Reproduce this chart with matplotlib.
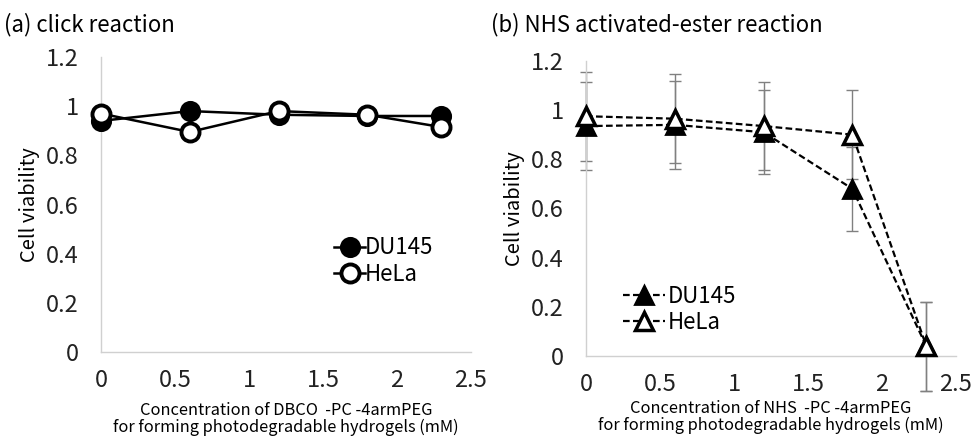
import matplotlib
matplotlib.use("Agg")
import matplotlib.pyplot as plt
import numpy as np

plt.rcParams['font.family'] = ['Noto Sans CJK JP', 'DejaVu Sans']

# concentrations (mM)
conc = [0, 0.6, 1.2, 1.8, 2.3]

# (a) click reaction
click_du145 = [0.94, 0.98, 0.965, 0.96, 0.96]
click_hela = [0.97, 0.895, 0.98, 0.965, 0.915]

# (b) NHS activated-ester reaction
nhs_du145 = [0.935, 0.94, 0.91, 0.68, 0.04]
nhs_du145_err = [0.18, 0.18, 0.17, 0.17, 0.18]
nhs_hela = [0.975, 0.965, 0.935, 0.90, 0.04]
nhs_hela_err = [0.18, 0.18, 0.18, 0.18, 0.18]

yticks = [0, 0.2, 0.4, 0.6, 0.8, 1, 1.2]
ytick_labels = ["0", "0.2", "0.4", "0.6", "0.8", "1", "1.2"]
xticks = [0, 0.5, 1, 1.5, 2, 2.5]
xtick_labels = ["0", "0.5", "1", "1.5", "2", "2.5"]

fig = plt.figure(figsize=(9.71, 4.38), dpi=100)
ax1 = fig.add_axes([0.104, 0.196, 0.381, 0.674])
ax2 = fig.add_axes([0.6035, 0.187, 0.381, 0.674])


def style_axes(ax):
    ax.set_xlim(0, 2.5)
    ax.set_ylim(0, 1.2)
    ax.set_xticks(xticks)
    ax.set_xticklabels(xtick_labels)
    ax.set_yticks(yticks)
    ax.set_yticklabels(ytick_labels)
    for s in ["top", "right"]:
        ax.spines[s].set_visible(False)
    for s in ["left", "bottom"]:
        ax.spines[s].set_color("#d0d0d0")
        ax.spines[s].set_linewidth(1.0)
    ax.tick_params(length=0, labelsize=17, colors="#222222")
    ax.tick_params(axis="x", pad=12)
    ax.tick_params(axis="y", pad=16)
    ax.set_ylabel("Cell viability", fontsize=14.5, labelpad=4)


# panel a
ax1.plot(conc, click_du145, color="black", lw=1.8, marker="o", ms=13,
         mfc="black", mec="black", mew=2.2, label="DU145", clip_on=False, zorder=3)
ax1.plot(conc, click_hela, color="black", lw=1.8, marker="o", ms=13,
         mfc="white", mec="black", mew=2.8, label="HeLa", clip_on=False, zorder=3)
style_axes(ax1)
ax1.set_xlabel("Concentration of DBCO  -PC -4armPEG\nfor forming photodegradable hydrogels (mM)",
               fontsize=11.8, linespacing=1.0, labelpad=7)
ax1.legend(loc="upper left", bbox_to_anchor=(0.6, 0.43), frameon=False, fontsize=16,
           handlelength=1.4, handletextpad=0.0, labelspacing=0.15, borderpad=0)
fig.text(0.004, 0.943, "(a) click reaction", fontsize=16, va="center", ha="left")

# panel b
ax2.errorbar(conc, nhs_du145, yerr=nhs_du145_err, fmt="none", ecolor="#808080",
             elinewidth=1.0, capsize=4, capthick=1.0, clip_on=False, zorder=2)
ax2.errorbar(conc, nhs_hela, yerr=nhs_hela_err, fmt="none", ecolor="#808080",
             elinewidth=1.0, capsize=4, capthick=1.0, clip_on=False, zorder=2)
ax2.plot(conc, nhs_du145, color="black", lw=1.6, ls=(0, (3, 1.5)), marker="^", ms=13,
         mfc="black", mec="black", mew=2.0, label="DU145", clip_on=False, zorder=3)
ax2.plot(conc, nhs_hela, color="black", lw=1.6, ls=(0, (3, 1.5)), marker="^", ms=13,
         mfc="white", mec="black", mew=2.5, label="HeLa", clip_on=False, zorder=3)
style_axes(ax2)
ax2.set_xlabel("Concentration of NHS  -PC -4armPEG\nfor forming photodegradable hydrogels (mM)",
               fontsize=11.8, linespacing=1.0, labelpad=3)
ax2.legend(loc="upper left", bbox_to_anchor=(0.07, 0.28), frameon=False, fontsize=16,
           handlelength=1.9, handletextpad=0.1, labelspacing=0.15, borderpad=0)
fig.text(0.506, 0.943, "(b) NHS activated-ester reaction", fontsize=16, va="center", ha="left")

fig.savefig("out.png", dpi=100)
